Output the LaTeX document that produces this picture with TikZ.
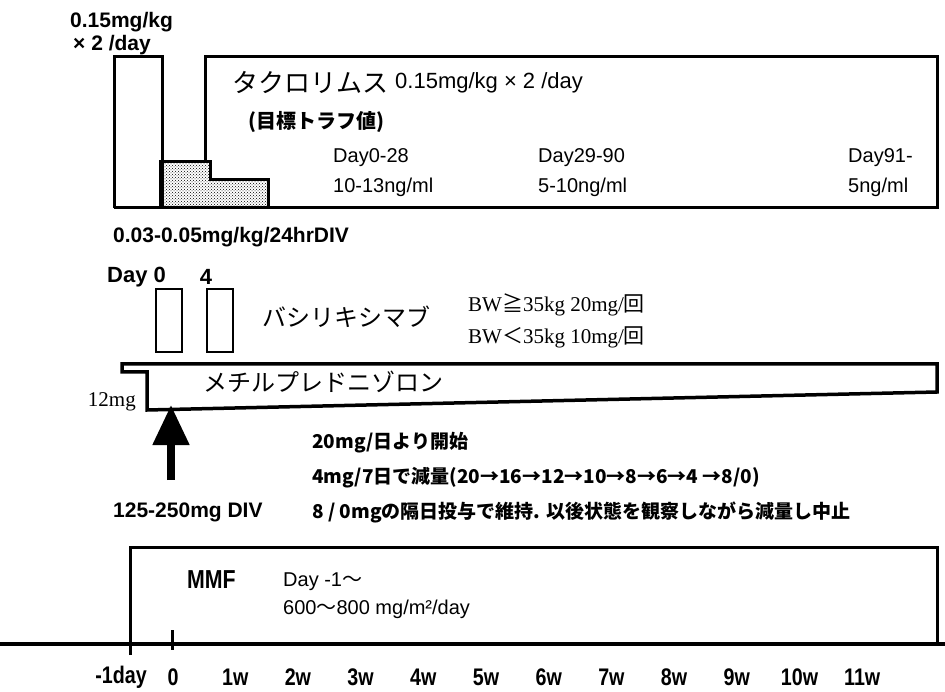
\documentclass[tikz,border=0pt]{standalone}
\usepackage{fontspec}
\setmainfont{Liberation Sans}
\newfontfamily\jpfont{Noto Sans CJK JP}
\newfontfamily\tmfont{Liberation Serif}
\newfontfamily\axfont{Liberation Sans}[FakeStretch=0.82]
\usetikzlibrary{arrows.meta,patterns}

\tikzset{
  txt/.style={inner sep=0pt, anchor=west, font=\fontsize{20}{24}\selectfont},
  btxt/.style={inner sep=0pt, anchor=west, font=\bfseries\fontsize{21}{24}\selectfont},
  jtxt/.style={inner sep=0pt, anchor=west, font=\jpfont\fontsize{24}{28}\selectfont},
  jline/.style={inner sep=0pt, anchor=west, font=\jpfont\bfseries\fontsize{19}{22}\selectfont},
  serif/.style={inner sep=0pt, anchor=west, font=\tmfont\fontsize{21}{24}\selectfont},
  wk/.style={inner sep=0pt, font=\axfont\bfseries\fontsize{24}{28}\selectfont},
  frame/.style={line width=3pt},
}

\begin{document}
\begin{tikzpicture}[x=1pt,y=-1pt]
\useasboundingbox (0,0) rectangle (945,692);

% Tacrolimus
\draw[frame, pattern=crosshatch dots] (160,208) -- (160,162) -- (210,162) -- (210,180) -- (268,180) -- (268,208) -- cycle;
\draw[frame] (114,208) -- (114,57) -- (162,57) -- (162,208);
\draw[frame] (205,162) -- (205,57) -- (937,57) -- (937,208) -- (114,208);

\node[btxt] (tacload) at (70,22) {0.15mg/kg};
\node[btxt] (tacload2) at (73,45) {× 2 /day};
\node[jtxt, font=\jpfont\fontsize{26}{30}\selectfont] (tac) at (232,82) {タクロリムス};
\node[txt, font=\fontsize{22}{26}\selectfont] (tacdose) at (395,83) {0.15mg/kg × 2 /day};
\node[jtxt, font=\jpfont\bfseries\fontsize{20}{24}\selectfont] (trough) at (248,122) {(目標トラフ値)};
\node[txt] (p1) at (333,158) {Day0-28};
\node[txt] (p1v) at (333,187) {10-13ng/ml};
\node[txt] (p2) at (538,158) {Day29-90};
\node[txt] (p2v) at (538,187) {5-10ng/ml};
\node[txt] (p3) at (848,158) {Day91-};
\node[txt] (p3v) at (848,187) {5ng/ml};
\node[btxt] (tacdiv) at (113,237) {0.03-0.05mg/kg/24hrDIV};

% Basiliximab
\node[btxt, font=\bfseries\fontsize{22}{26}\selectfont] (day0) at (107,277) {Day 0};
\node[btxt, anchor=center, font=\bfseries\fontsize{22}{26}\selectfont] (day4) at (206,277) {4};
\draw[line width=2.5pt] (156,289) rectangle (182,352);
\draw[line width=2.5pt] (207,289) rectangle (233,352);
\node[jtxt] (basi) at (262,317) {バシリキシマブ};
\node[serif] (bw1) at (468,305) {BW{\jpfont ≧}35kg 20mg/{\jpfont 回}};
\node[serif] (bw2) at (468,337) {BW{\jpfont ＜}35kg 10mg/{\jpfont 回}};

% Methylprednisolone
\draw[line width=3.5pt] (122,372) -- (122,364) -- (937,364) -- (937,392) -- (147,410) -- (147,372) -- cycle;
\node[jtxt] (mp) at (203,382) {メチルプレドニゾロン};
\node[serif, anchor=east] (mp12) at (136,402) {12mg};

\coordinate (ivtip) at (171,405);
\coordinate (ivfoot) at (171,480);
\draw[line width=8pt, -{Triangle[width=35pt,length=40pt]}] (ivfoot) -- (ivtip);
\node[btxt] (ivdose) at (113,512) {125-250mg DIV};

\node[jline] (mpa) at (312,443) {20mg/日より開始};
\node[jline] (mpb) at (312,478) {4mg/7日で減量(20→16→12→10→8→6→4 →8/0)};
\node[jline] (mpc) at (312,512) {8 / 0mgの隔日投与で維持. 以後状態を観察しながら減量し中止};

% MMF
\draw[frame] (130,655) -- (130,547) -- (937,547) -- (937,644);
\node[wk, anchor=west, font=\axfont\bfseries\fontsize{26}{30}\selectfont] (mmf) at (187,580) {MMF};
\node[txt] (mmfstart) at (283,582) {Day -1{\jpfont ～}};
\node[txt] (mmfdose) at (283,609) {600{\jpfont ～}800 mg/m²/day};

% Axis
\draw[line width=4pt] (0,644) -- (945,644);
\draw[line width=3pt] (172,630) -- (172,650);
\node[wk] (wm1) at (121,677) {-1day};
\node[wk] (w0) at (173,677) {0};
\foreach \k in {1,...,11}
  \node[wk] (w\k) at ({172.5+62.7*\k},677) {\k w};

\end{tikzpicture}
\end{document}
